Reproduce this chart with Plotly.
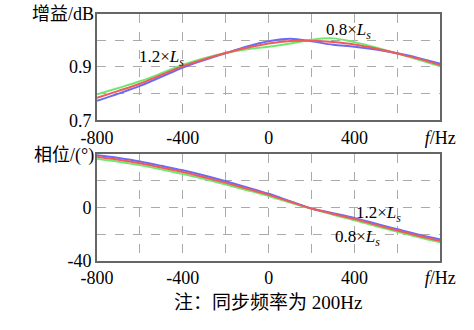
import plotly.graph_objects as go

freq = [-800, -700, -600, -500, -400, -300, -200, -100, 0, 100, 200, 300, 400, 500, 600, 700, 800]

gain_nom = [0.784, 0.810, 0.837, 0.870, 0.903, 0.929, 0.952, 0.972, 0.988, 0.997, 0.998, 0.993, 0.984, 0.969, 0.950, 0.930, 0.907]
gain_08 = [0.797, 0.821, 0.846, 0.876, 0.908, 0.933, 0.952, 0.966, 0.976, 0.988, 1.002, 1.007, 0.993, 0.973, 0.950, 0.927, 0.902]
gain_12 = [0.773, 0.800, 0.829, 0.863, 0.898, 0.926, 0.952, 0.977, 0.996, 1.006, 0.996, 0.983, 0.976, 0.965, 0.951, 0.933, 0.912]

phase_nom = [38.0, 35.8, 33.2, 30.0, 26.6, 22.7, 18.5, 14.1, 9.5, 4.3, -0.8, -4.8, -8.6, -13.0, -17.2, -21.3, -25.0]
phase_08 = [36.6, 34.4, 31.8, 28.6, 25.2, 21.4, 17.3, 13.0, 8.6, 3.7, -0.9, -5.4, -9.5, -14.0, -18.2, -22.3, -26.1]
phase_12 = [39.3, 37.1, 34.5, 31.3, 27.9, 24.0, 19.7, 15.1, 10.3, 4.8, -0.7, -4.2, -7.8, -12.1, -16.3, -20.4, -24.0]

x_ticks = [-800, -400, 0, 400, 800]
x_text = ["-800", "-400", "0", "400", "<i>f</i>/Hz"]
gain_ticks = [0.7, 0.9]
gain_text = ["0.7", "0.9"]
phase_ticks = [-40, 0]
phase_text = ["-40", "0"]

FONT = "Liberation Serif, Times New Roman, Noto Sans CJK SC, serif"
GREEN = "#70e870"
RED = "#f05a5a"
BLUE = "#6a6af5"

fig = go.Figure()

series = [
    (gain_08, phase_08, GREEN),
    (gain_12, phase_12, BLUE),
    (gain_nom, phase_nom, RED),
]
for g, p, c in series:
    fig.add_trace(go.Scatter(x=freq, y=g, mode="lines", line=dict(color=c, width=2, shape="spline"),
                             xaxis="x", yaxis="y", showlegend=False))
    fig.add_trace(go.Scatter(x=freq, y=p, mode="lines", line=dict(color=c, width=2, shape="spline"),
                             xaxis="x2", yaxis="y2", showlegend=False))

GRID = dict(showgrid=True, gridcolor="#aaaaaa", griddash="dash", gridwidth=1)
axis_common = dict(showline=True, linecolor="#666666", linewidth=2, mirror=True,
                   zeroline=False, ticks="", tickfont=dict(family=FONT, size=18, color="#000"), **GRID)

xdom = [86 / 474, 455 / 474]
fig.update_layout(
    width=474, height=330,
    margin=dict(l=0, r=0, t=0, b=0),
    paper_bgcolor="white", plot_bgcolor="white",
    font=dict(family=FONT, size=18, color="#000"),
    xaxis=dict(domain=xdom, range=[-800, 800], anchor="y", tickmode="array",
               tickvals=x_ticks, ticktext=x_text, minor=dict(tick0=-800, dtick=200, **GRID), **axis_common),
    yaxis=dict(domain=[1 - 124 / 330, 1 - 14 / 330], range=[0.7, 1.1], anchor="x", tickmode="array",
               tickvals=gain_ticks, ticktext=gain_text, minor=dict(tick0=0.7, dtick=0.1, **GRID), **axis_common),
    xaxis2=dict(domain=xdom, range=[-800, 800], anchor="y2", tickmode="array",
                tickvals=x_ticks, ticktext=x_text, minor=dict(tick0=-800, dtick=200, **GRID), **axis_common),
    yaxis2=dict(domain=[1 - 269 / 330, 1 - 159 / 330], range=[-40, 40], anchor="x2", tickmode="array",
                tickvals=phase_ticks, ticktext=phase_text, minor=dict(tick0=-40, dtick=20, **GRID), **axis_common),
)

ann = [
    dict(text="增益/dB", x=85 / 474, y=1 - 14 / 330, xanchor="right", yanchor="middle", xref="paper", yref="paper", size=18),
    dict(text="相位/(°)", x=85 / 474, y=1 - 160 / 330, xanchor="right", yanchor="middle", xref="paper", yref="paper", size=18),
    dict(text="注：同步频率为 200Hz", x=270 / 474, y=1 - 312 / 330, xanchor="center", yanchor="middle", xref="paper", yref="paper", size=19),
    dict(text="1.2×<i>L<sub>s</sub></i>", x=-500, y=0.935, xref="x", yref="y", size=17),
    dict(text="0.8×<i>L<sub>s</sub></i>", x=370, y=1.035, xref="x", yref="y", size=17),
    dict(text="1.2×<i>L<sub>s</sub></i>", x=510, y=-4.5, xref="x2", yref="y2", size=17),
    dict(text="0.8×<i>L<sub>s</sub></i>", x=412, y=-22.5, xref="x2", yref="y2", size=17),
]
for a in ann:
    s = a.pop("size")
    a.update(showarrow=False, font=dict(family=FONT, size=s, color="#000"))
    fig.add_annotation(**a)

fig.write_html("out.html")
